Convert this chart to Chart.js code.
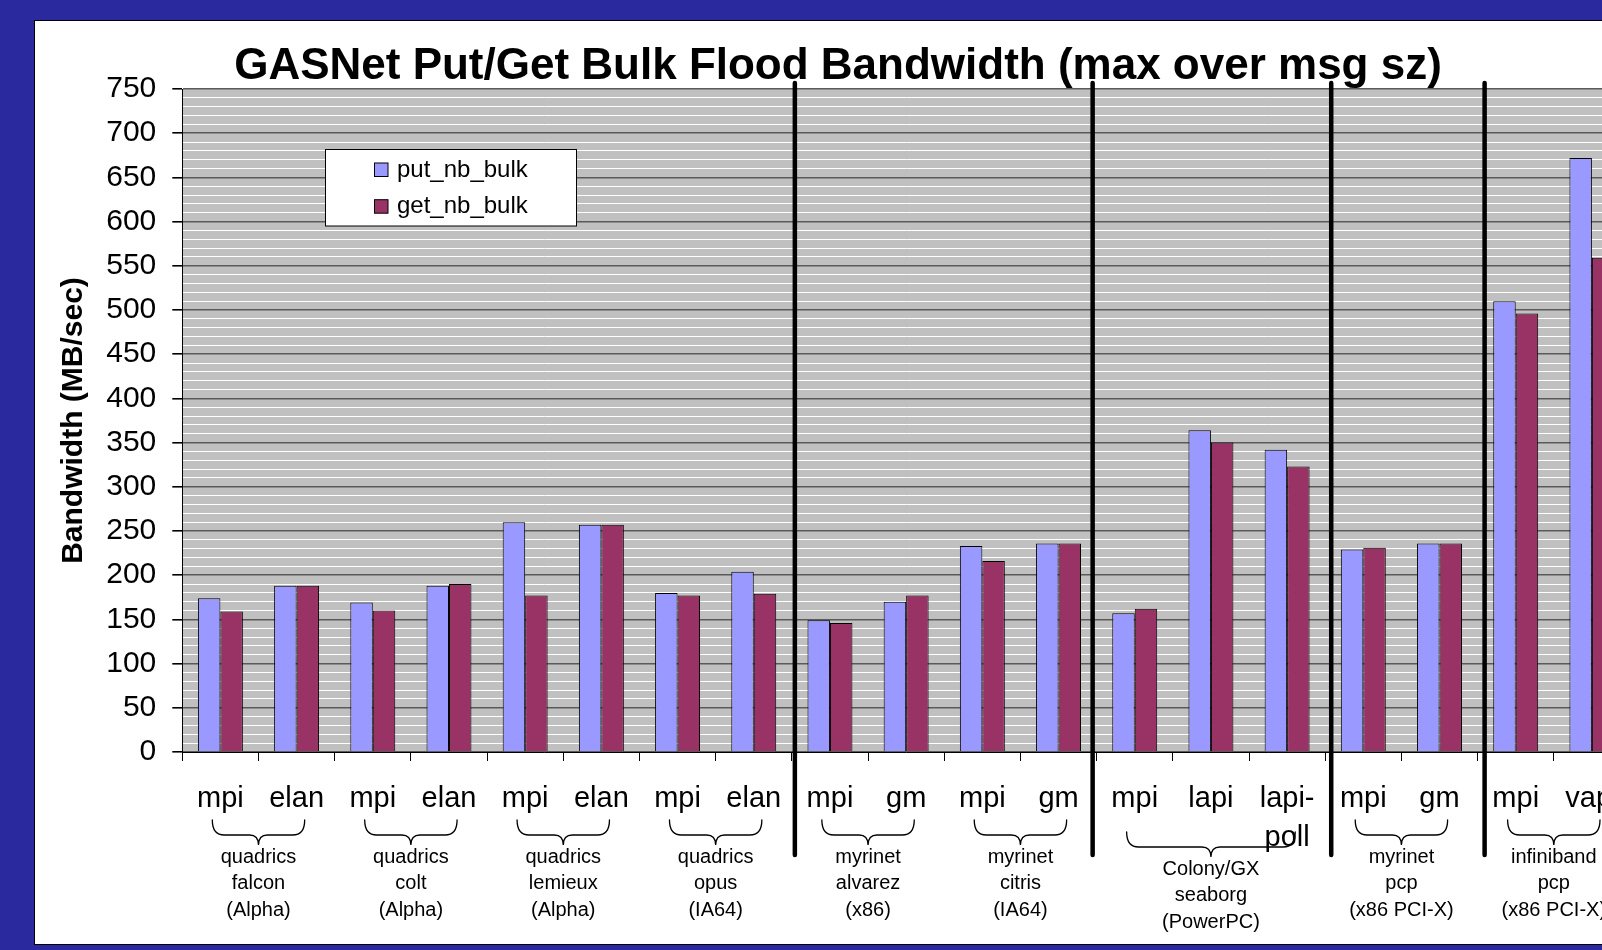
<!DOCTYPE html>
<html>
<head>
<meta charset="utf-8">
<script src="https://cdn.jsdelivr.net/npm/chart.js@4"></script>
<style>
  html, body { margin: 0; padding: 0; background: #2a2a9e; overflow: hidden; width: 1602px; height: 950px; }
  #panel { position: absolute; left: 34px; top: 20px; width: 1700px; height: 923px; background: #fff; border: 1px solid #000; }
  #wrap { position: absolute; left: 0; top: 0; width: 1676px; height: 950px; }
</style>
</head>
<body>
<div id="panel"></div>
<div id="wrap"><canvas id="bwChart"></canvas></div>
<script>
// categories (x axis) and the machine groups under them
const categories = ['mpi', 'elan', 'mpi', 'elan', 'mpi', 'elan', 'mpi', 'elan',
  'mpi', 'gm', 'mpi', 'gm', 'mpi', 'lapi', ['lapi-', 'poll'], 'mpi', 'gm', 'mpi', 'vapi'];
const groupSizes = [2, 2, 2, 2, 2, 2, 3, 2, 2];
const groupLabels = [
  ['quadrics', 'falcon', '(Alpha)'],
  ['quadrics', 'colt', '(Alpha)'],
  ['quadrics', 'lemieux', '(Alpha)'],
  ['quadrics', 'opus', '(IA64)'],
  ['myrinet', 'alvarez', '(x86)'],
  ['myrinet', 'citris', '(IA64)'],
  ['Colony/GX', 'seaborg', '(PowerPC)'],
  ['myrinet', 'pcp', '(x86 PCI-X)'],
  ['infiniband', 'pcp', '(x86 PCI-X)']
];
// thick dividers go after these category counts
const dividerAfter = [8, 12, 15, 17];

// MB/sec
const putBulk = [174, 188, 169, 188, 260, 257, 180, 204, 149, 170, 233, 236, 157, 364, 342, 229, 236, 510, 672];
const getBulk = [159, 188, 160, 190, 177, 257, 177, 179, 146, 177, 216, 236, 162, 350, 323, 231, 236, 496, 559];

const FONT = '"Liberation Sans", Arial, sans-serif';
Chart.defaults.font.family = FONT;
Chart.defaults.color = '#000';

// dividers are hand-placed in the original, slightly off the boundaries
const dividerNudge = [3, -4, 6, 7];

const decor = {
  id: 'decor',
  beforeDraw(chart) {
    const { ctx, chartArea: a } = chart;
    ctx.save();
    ctx.fillStyle = '#c0c0c0';
    ctx.fillRect(a.left, a.top, a.right - a.left, a.bottom - a.top);
    ctx.restore();
  },
  afterDraw(chart) {
    const { ctx, chartArea: a } = chart;
    const x = chart.scales.x;
    const catW = x.getPixelForValue(1) - x.getPixelForValue(0);
    const edge = i => x.getPixelForValue(i) - catW / 2;

    ctx.save();
    // title
    ctx.fillStyle = '#000';
    ctx.font = 'bold 44px ' + FONT;
    ctx.textAlign = 'center';
    ctx.textBaseline = 'alphabetic';
    ctx.fillText('GASNet Put/Get Bulk Flood Bandwidth (max over msg sz)', 838, 79);

    // thick dividers
    ctx.strokeStyle = '#000';
    ctx.lineWidth = 4.5;
    ctx.lineCap = 'round';
    dividerAfter.forEach((n, i) => {
      const px = edge(n) + dividerNudge[i];
      ctx.beginPath();
      ctx.moveTo(px, a.top - 6);
      ctx.lineTo(px, a.bottom + 103);
      ctx.stroke();
    });

    // legend box
    const ds = chart.data.datasets;
    ctx.fillStyle = '#fff';
    ctx.fillRect(325.5, 149.5, 251, 76.5);
    ctx.lineWidth = 1;
    ctx.strokeRect(325.5, 149.5, 251, 76.5);
    ctx.font = '24px ' + FONT;
    ctx.textAlign = 'left';
    ctx.textBaseline = 'middle';
    ds.forEach((d, i) => {
      const cy = 170 + i * 36.7;
      ctx.fillStyle = d.backgroundColor;
      ctx.fillRect(374.5, cy - 7, 13.5, 13.5);
      ctx.strokeStyle = '#000';
      ctx.strokeRect(374.5, cy - 7, 13.5, 13.5);
      ctx.fillStyle = '#000';
      ctx.fillText(d.label, 397, cy);
    });

    // braces + group names
    let start = 0;
    groupSizes.forEach((n, g) => {
      const left = edge(start) + 30;
      const right = edge(start + n) - 30;
      const mid = (edge(start) + edge(start + n)) / 2;
      const tall = categories.slice(start, start + n).some(c => Array.isArray(c));
      const y0 = a.bottom + 68 + (tall ? 12 : 0);
      const h = 15;
      ctx.strokeStyle = '#000';
      ctx.lineWidth = 1.3;
      ctx.beginPath();
      ctx.moveTo(left, y0);
      ctx.quadraticCurveTo(left, y0 + h, left + 12, y0 + h);
      ctx.lineTo(mid - 9, y0 + h);
      ctx.quadraticCurveTo(mid, y0 + h, mid, y0 + 25);
      ctx.quadraticCurveTo(mid, y0 + h, mid + 9, y0 + h);
      ctx.lineTo(right - 12, y0 + h);
      ctx.quadraticCurveTo(right, y0 + h, right, y0);
      ctx.stroke();

      ctx.fillStyle = '#000';
      ctx.font = '20px ' + FONT;
      ctx.textAlign = 'center';
      ctx.textBaseline = 'middle';
      groupLabels[g].forEach((t, k) => ctx.fillText(t, mid, y0 + 37 + k * 26.7));
      start += n;
    });
    ctx.restore();
  }
};

new Chart(document.getElementById('bwChart'), {
  type: 'bar',
  data: {
    labels: categories,
    datasets: [
      { label: 'put_nb_bulk', data: putBulk, backgroundColor: '#9999ff', borderColor: '#000', borderWidth: 1 },
      { label: 'get_nb_bulk', data: getBulk, backgroundColor: '#993366', borderColor: '#000', borderWidth: 1 }
    ]
  },
  options: {
    responsive: true,
    maintainAspectRatio: false,
    animation: false,
    layout: { padding: { left: 0, top: 89, right: 46, bottom: 0 } },
    datasets: { bar: { barPercentage: 1.0, categoryPercentage: 0.59 } },
    plugins: {
      legend: { display: false },
      tooltip: { enabled: false }
    },
    scales: {
      x: {
        afterFit(s) { s.height = 198; },
        grid: { offset: true, drawOnChartArea: false, color: '#000', tickLength: 9 },
        border: { color: '#000', width: 1 },
        ticks: {
          autoSkip: false,
          maxRotation: 0,
          padding: 18,
          color: '#000',
          font: { size: 29, lineHeight: 1.35 }
        }
      },
      y: {
        min: 0,
        max: 750,
        afterFit(s) { s.width = 182.3; },
        border: { color: '#000', width: 1 },
        grid: {
          color: c => (c.tick.value % 50 === 0 ? '#5a5a5a' : '#ffffff'),
          lineWidth: c => (c.tick.value % 50 === 0 ? 1.6 : 1),
          tickColor: c => (c.tick.value % 50 === 0 ? '#000' : 'rgba(0,0,0,0)'),
          tickLength: 10
        },
        ticks: {
          stepSize: 10,
          autoSkip: false,
          padding: 16,
          color: '#000',
          font: { size: 30 },
          callback: v => (v % 50 === 0 ? v : '')
        },
        title: {
          display: true,
          text: 'Bandwidth (MB/sec)',
          color: '#000',
          font: { size: 30, weight: 'bold' },
          padding: { top: 56, bottom: 0 }
        }
      }
    }
  },
  plugins: [decor]
});
</script>
</body>
</html>
